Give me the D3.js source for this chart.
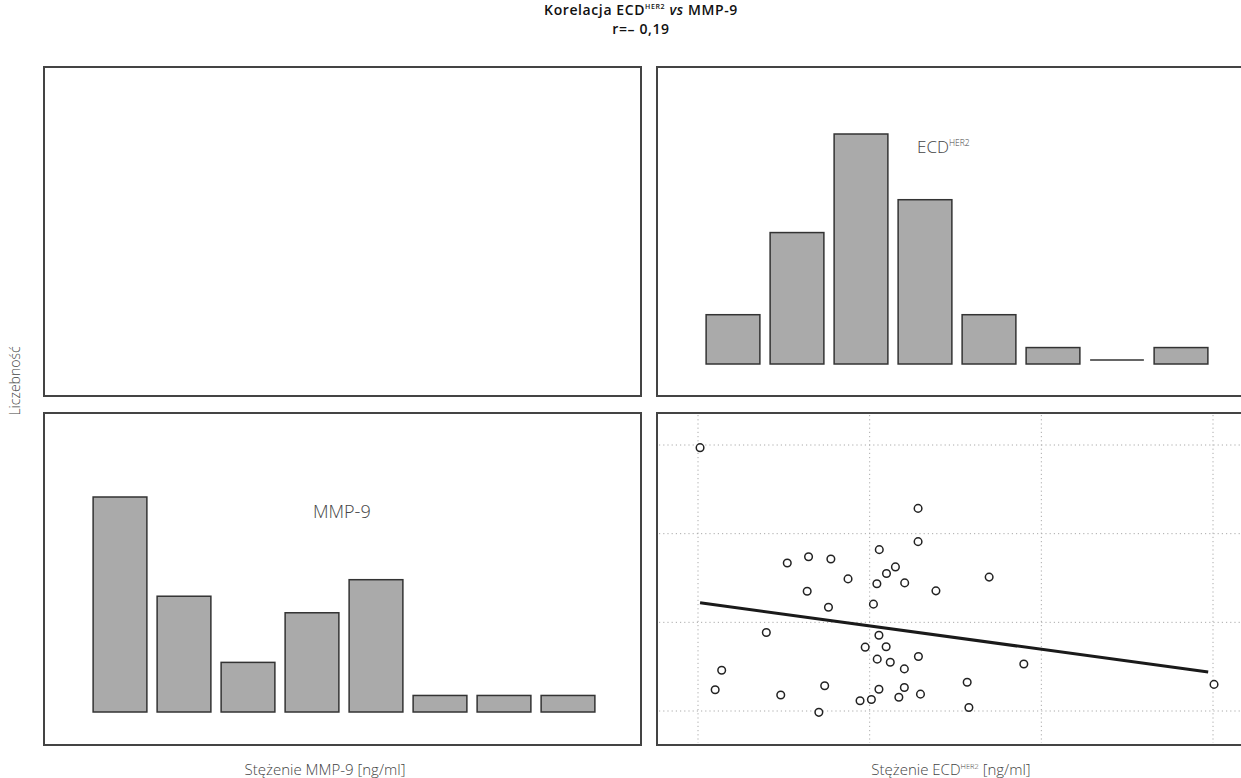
<!DOCTYPE html>
<html>
<head>
<meta charset="utf-8">
<script src="https://cdnjs.cloudflare.com/ajax/libs/d3/7.8.5/d3.min.js"></script>
<style>
  body { margin: 0; background: #fff; }
  svg text { font-family: "Open Sans", sans-serif; }
</style>
</head>
<body>
<div id="chart"></div>
<script>
// histogram counts (8 bins each)
const binIds = [0, 1, 2, 3, 4, 5, 6, 7];
const ecdCounts = [3, 8, 14, 10, 3, 1, 0, 1];
const mmpCounts = [13, 7, 3, 6, 8, 1, 1, 1];

// scatter: ECD-HER2 [ng/ml] vs MMP-9 [ng/ml]
const ecdValues = [5.06, 11.41, 11.41, 10.28, 8.22, 8.87, 7.60, 10.75, 10.49, 9.37,
                   11.02, 10.21, 8.18, 11.93, 13.48, 8.80, 10.11, 6.99, 10.27, 9.87,
                   10.48, 11.42, 10.22, 10.60, 11.01, 5.69, 5.50, 8.69, 10.27, 11.01,
                   7.41, 11.48, 10.85, 10.05, 9.72, 8.52, 14.49, 12.84, 12.89, 20.03];
const mmpValues = [694, 557, 482, 464, 448, 443, 434, 425, 410, 398,
                   389, 387, 370, 371, 402, 334, 341, 277, 271, 244,
                   245, 223, 217, 210, 195, 192, 148, 157, 149, 153,
                   136, 138, 131, 126, 123, 97, 206, 165, 108, 160];

// grid positions (axis ticks, no labels shown)
const xTicks = [5, 10, 15, 20];
const yTicks = [100, 300, 500, 700];

// regression line
const regSlope = -10.54;
const regIntercept = 397.3;
const regRange = [5.06, 19.86];

const W = 1241, H = 778;
const svg = d3.select("#chart").append("svg")
    .attr("width", W)
    .attr("height", H);

// panels
const panels = {
    tl: {x: 44, y: 67, w: 597, h: 329},
    tr: {x: 657, y: 67, w: 597, h: 329},
    bl: {x: 44, y: 413, w: 597, h: 332},
    br: {x: 657, y: 413, w: 597, h: 332}
};

// scatter scales
const x = d3.scaleLinear().domain([5, 20]).range([698, 1213]);
const y = d3.scaleLinear().domain([100, 700]).range([711, 445]);

// dotted grid in scatter panel
const br = panels.br;
const grid = svg.append("g").attr("class", "grid")
    .attr("stroke", "#aaa")
    .attr("stroke-width", 1)
    .attr("stroke-dasharray", "1.2,3");
grid.selectAll("line.v").data(xTicks).enter().append("line")
    .attr("class", "v")
    .attr("x1", d => x(d)).attr("x2", d => x(d))
    .attr("y1", br.y + 2).attr("y2", br.y + br.h - 2);
grid.selectAll("line.h").data(yTicks).enter().append("line")
    .attr("class", "h")
    .attr("x1", br.x + 2).attr("x2", W)
    .attr("y1", d => y(d)).attr("y2", d => y(d));

// panel frames
svg.selectAll("rect.panel")
    .data(Object.values(panels))
    .enter()
    .append("rect")
    .attr("class", "panel")
    .attr("x", d => d.x).attr("y", d => d.y)
    .attr("width", d => d.w).attr("height", d => d.h)
    .attr("fill", "none")
    .attr("stroke", "#444")
    .attr("stroke-width", 2);

// histogram helper
function drawHist(counts, bandRange, yMax, yRange) {
    const bx = d3.scaleBand().domain(binIds).range(bandRange)
        .paddingInner(0.16).paddingOuter(0.08);
    const by = d3.scaleLinear().domain([0, yMax]).range(yRange);
    const g = svg.append("g");
    g.selectAll("rect")
        .data(counts.map((c, i) => ({i: i, c: c})).filter(d => d.c > 0))
        .enter()
        .append("rect")
        .attr("x", d => bx(d.i))
        .attr("y", d => by(d.c))
        .attr("width", bx.bandwidth())
        .attr("height", d => by(0) - by(d.c))
        .attr("fill", "#aaaaaa")
        .attr("stroke", "#333")
        .attr("stroke-width", 1.5);
    // empty bins drawn as a flat line
    g.selectAll("line")
        .data(counts.map((c, i) => ({i: i, c: c})).filter(d => d.c === 0))
        .enter()
        .append("line")
        .attr("x1", d => bx(d.i)).attr("x2", d => bx(d.i) + bx.bandwidth())
        .attr("y1", by(0) - 4).attr("y2", by(0) - 4)
        .attr("stroke", "#333")
        .attr("stroke-width", 1.5);
}

drawHist(ecdCounts, [701, 1213], 14, [364, 134]);
drawHist(mmpCounts, [88, 600], 13, [712, 497]);

// regression line
svg.append("line")
    .attr("x1", x(regRange[0])).attr("y1", y(regIntercept + regSlope * regRange[0]))
    .attr("x2", x(regRange[1])).attr("y2", y(regIntercept + regSlope * regRange[1]))
    .attr("stroke", "#1a1a1a")
    .attr("stroke-width", 3);

// points
svg.append("g").selectAll("circle")
    .data(ecdValues.map((v, i) => [v, mmpValues[i]]))
    .enter()
    .append("circle")
    .attr("cx", d => x(d[0]))
    .attr("cy", d => y(d[1]))
    .attr("r", 3.8)
    .attr("fill", "#fff")
    .attr("stroke", "#222")
    .attr("stroke-width", 1.5);

// labels with superscript
function supText(parent, px, py, main, sup, rest, opts) {
    const t = parent.append("text")
        .attr("x", px).attr("y", py)
        .attr("text-anchor", opts.anchor || "middle")
        .attr("font-size", opts.size)
        .attr("font-weight", opts.weight || 400)
        .attr("letter-spacing", opts.spacing || 0)
        .attr("fill", opts.fill);
    t.append("tspan").text(main);
    t.append("tspan").attr("font-size", opts.size * 0.5).attr("dy", -opts.size * 0.4).text(sup);
    if (rest) rest(t, opts);
    return t;
}

// title
supText(svg, 641, 15, "Korelacja ECD", "HER2", (t, o) => {
    t.append("tspan").attr("dy", o.size * 0.4).text(" ");
    t.append("tspan").attr("font-style", "italic").text("vs");
    t.append("tspan").text(" MMP-9");
}, {size: 14, weight: 600, fill: "#111", spacing: 0.6});
svg.append("text")
    .attr("x", 641).attr("y", 34)
    .attr("text-anchor", "middle")
    .attr("font-size", 14).attr("font-weight", 600).attr("fill", "#111")
    .attr("letter-spacing", 0.6)
    .text("r=– 0,19");

// inner labels
supText(svg, 917, 153, "ECD", "HER2", null, {size: 17, weight: 300, fill: "#444", anchor: "start"});
svg.append("text")
    .attr("x", 313).attr("y", 518)
    .attr("font-size", 18).attr("font-weight", 300).attr("fill", "#444")
    .text("MMP-9");

// axis titles
svg.append("text")
    .attr("transform", "translate(20,381) rotate(-90)")
    .attr("text-anchor", "middle")
    .attr("font-size", 14).attr("font-weight", 300).attr("fill", "#444")
    .text("Liczebność");
svg.append("text")
    .attr("x", 325).attr("y", 775)
    .attr("text-anchor", "middle")
    .attr("font-size", 15).attr("font-weight", 300).attr("fill", "#444")
    .text("Stężenie MMP-9 [ng/ml]");
supText(svg, 951, 775, "Stężenie ECD", "HER2", (t, o) => {
    t.append("tspan").attr("dy", o.size * 0.4).text(" [ng/ml]");
}, {size: 15, weight: 300, fill: "#444"});
</script>
</body>
</html>
